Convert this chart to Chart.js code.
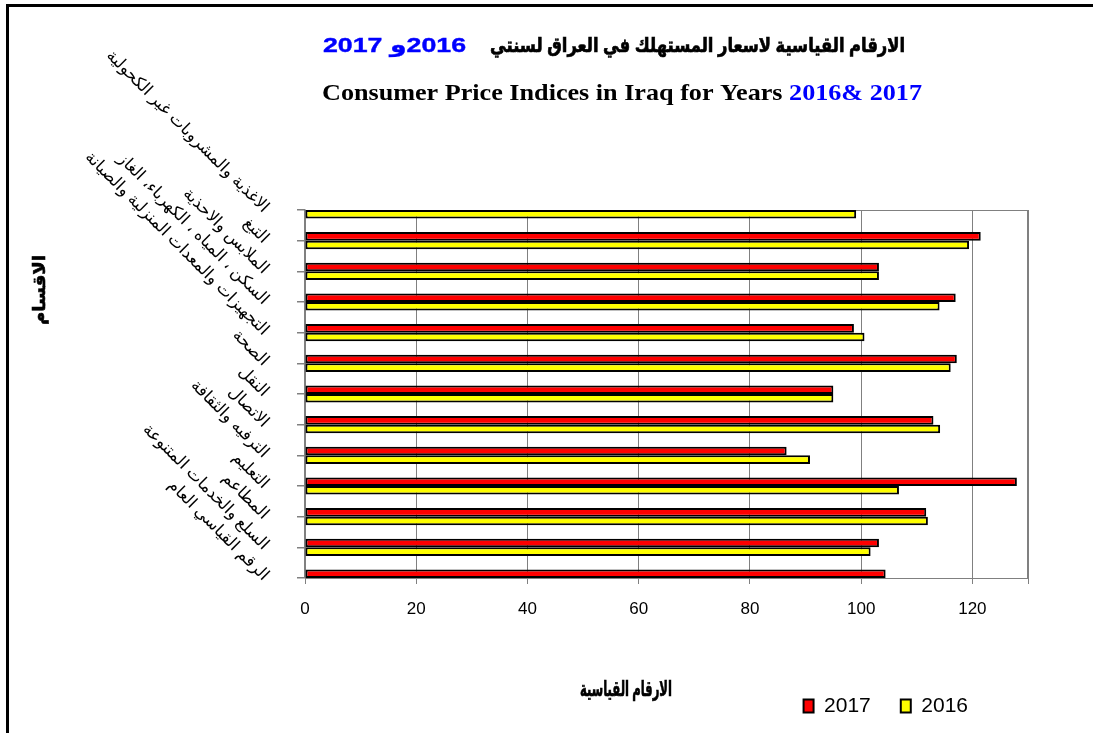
<!DOCTYPE html>
<html>
<head>
<meta charset="utf-8">
<script src="https://cdn.jsdelivr.net/npm/chart.js@4.4.1/dist/chart.umd.min.js"></script>
<style>
  html, body { margin: 0; padding: 0; background: #fff; overflow: hidden; }
  #wrap { position: relative; width: 1093px; height: 733px; }
  #frame { position: absolute; left: 6px; top: 4px; width: 1200px; height: 800px;
           border-top: 3px solid #000; border-left: 3px solid #000; }
  #mycanvas { position: absolute; left: 0; top: 0; }
</style>
</head>
<body>
<div id="wrap">
  <div id="frame"></div>
  <canvas id="mycanvas" width="1093" height="733"></canvas>
</div>
<script>
// categories, top to bottom
var categories = [
  'الاغذية والمشروبات غير الكحولية',
  'التبغ',
  'الملابس والاحذية',
  'السكن ، المياه ، الكهرباء، الغاز',
  'التجهيزات والمعدات المنزلية والصيانة',
  'الصحة',
  'النقل',
  'الاتصال',
  'الترفيه والثقافة',
  'التعليم',
  'المطاعم',
  'السلع والخدمات المتنوعة',
  'الرقم القياسي العام'
];
var Values_2017 = [98.6, 121.5, 103.2, 117.0, 98.7, 117.2, 95.0, 113.0, 86.6, 128.0, 111.7, 103.2, 104.4];
var Values_2016 = [99.1, 119.4, 103.2, 114.1, 100.6, 116.1, 95.0, 114.2, 90.8, 106.8, 112.0, 101.7, 104.0];
var xMin = 0, xMax = 130, xStep = 20, xLastLabel = 120;

var titleAr = 'الارقام القياسية لاسعار المستهلك في العراق لسنتي';
var titleArYears = '2016و 2017';
var titleEn = 'Consumer Price Indices in Iraq for Years ';
var titleEnYears = '2016& 2017';
var xTitle = 'الارقام القياسية';
var yTitle = 'الاقسام';

var sans = "Arial, 'Liberation Sans', 'DejaVu Sans', sans-serif";
var serif = "'Times New Roman', 'Liberation Serif', serif";

// draw text squeezed/stretched to a given width, like the squashed original
function fitText(ctx, txt, x, y, w, color, heavy) {
  var m = ctx.measureText(txt).width;
  ctx.save();
  ctx.translate(x, y);
  ctx.scale(w / m, 1);
  ctx.fillStyle = color;
  if (heavy) {
    ctx.strokeStyle = color;
    ctx.lineWidth = heavy;
    ctx.strokeText(txt, 0, 0);
  }
  ctx.fillText(txt, 0, 0);
  ctx.restore();
}

// titles, axis titles and plot frame
var textPlugin = {
  id: 'texts',
  beforeDatasetsDraw: function(chart) {
    var a = chart.chartArea, ctx = chart.ctx;
    ctx.save();
    ctx.strokeStyle = '#808080';
    ctx.lineWidth = 1;
    ctx.strokeRect(Math.round(a.left) + 0.5, Math.round(a.top) + 0.5,
                   Math.round(a.right - a.left) - 1, Math.round(a.bottom - a.top));
    ctx.restore();
  },
  afterDraw: function(chart) {
    var ctx = chart.ctx;
    ctx.save();
    ctx.textBaseline = 'middle';

    // arabic title: black part right anchored, blue years on the left
    ctx.direction = 'rtl';
    ctx.textAlign = 'right';
    ctx.font = 'bold 20px ' + sans;
    fitText(ctx, titleAr, 905, 46, 415, '#000', 0.7);
    ctx.font = 'bold 21px ' + sans;
    fitText(ctx, titleArYears, 466, 46, 143, '#0000FF', 0.4);

    // english title
    ctx.direction = 'ltr';
    ctx.textAlign = 'left';
    ctx.font = 'bold 24px ' + serif;
    var e1 = ctx.measureText(titleEn).width;
    var e2 = ctx.measureText(titleEnYears).width;
    var sx2 = 600 / (e1 + e2);
    ctx.save();
    ctx.translate(322, 94);
    ctx.scale(sx2, 1);
    ctx.fillStyle = '#000';
    ctx.fillText(titleEn, 0, 0);
    ctx.fillStyle = '#0000FF';
    ctx.fillText(titleEnYears, e1, 0);
    ctx.restore();

    // axis titles
    ctx.direction = 'rtl';
    ctx.textAlign = 'right';
    ctx.font = 'bold 21px ' + sans;
    fitText(ctx, xTitle, 672, 690, 92, '#000', 0.7);
    ctx.save();
    ctx.translate(40, 290);
    ctx.rotate(-Math.PI / 2);
    ctx.font = 'bold 17px ' + sans;
    fitText(ctx, yTitle, 35, 0, 70, '#000', 0.6);
    ctx.restore();

    ctx.restore();
  },
  afterLayout: function(chart) {
    // legend sits left of the plot's right edge, text centred near y=706
    var lg = chart.legend;
    lg.left -= 30;
    lg.right -= 30;
    var dy = (706 - 30 - 10.5) - lg.top;
    lg.top += dy;
    lg.bottom += dy;
  }
};

var chartdata = {
  labels: categories,
  datasets: [
    {
      label: '2017',
      backgroundColor: '#FF0000',
      borderColor: '#000000',
      borderWidth: 2,
      borderSkipped: false,
      clip: 0,
      data: Values_2017
    }, {
      label: '2016',
      backgroundColor: '#FFFF00',
      borderColor: '#000000',
      borderWidth: 2,
      borderSkipped: false,
      clip: 0,
      data: Values_2016
    }
  ]
};

var ctx = document.getElementById('mycanvas');

var barGraph = new Chart(ctx, {
  type: 'bar',
  data: chartdata,
  plugins: [textPlugin],
  options: {
    indexAxis: 'y',
    responsive: false,
    animation: false,
    categoryPercentage: 0.56,
    barPercentage: 1,
    layout: { padding: { top: 210, left: 10, right: 65, bottom: 0 } },
    plugins: {
      title: { display: false },
      tooltip: { enabled: false },
      legend: {
        position: 'bottom',
        align: 'end',
        labels: {
          boxWidth: 10,
          boxHeight: 13,
          padding: 30,
          color: '#000',
          font: { family: sans, size: 21 }
        }
      }
    },
    scales: {
      x: {
        min: xMin,
        max: xMax,
        grid: { color: '#808080', lineWidth: 1, tickLength: 6 },
        border: { color: '#808080' },
        ticks: {
          stepSize: xStep,
          padding: 15,
          color: '#000',
          font: { family: sans, size: 17 },
          callback: function(v) { return v > xLastLabel ? '' : v; }
        },
        afterFit: function(scale) { scale.height = 94; }
      },
      y: {
        offset: false,
        grid: { offset: false, drawOnChartArea: false, color: '#808080', lineWidth: 1.5, tickLength: 8 },
        border: { color: '#808080', width: 1.5 },
        ticks: {
          autoSkip: false,
          minRotation: -45,
          maxRotation: -45,
          padding: 31,
          color: '#000',
          font: { family: sans, size: 16.5 }
        },
        afterFit: function(scale) { scale.width = 295; }
      }
    }
  }
});
</script>
</body>
</html>
